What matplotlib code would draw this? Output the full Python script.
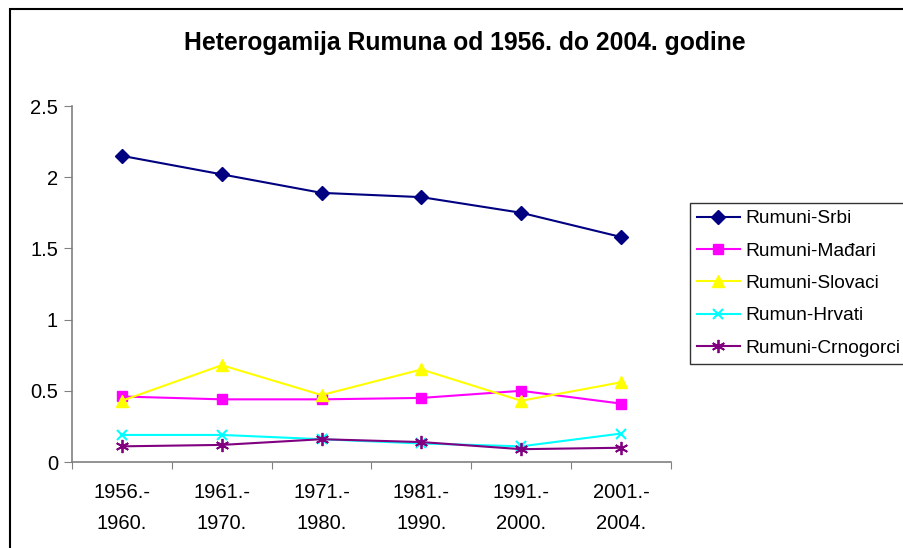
import numpy as np
import matplotlib.pyplot as plt
from matplotlib.patches import Rectangle

plt.rcParams['font.family'] = ['Liberation Sans', 'DejaVu Sans']

periods = ["1956.-\n1960.", "1961.-\n1970.", "1971.-\n1980.",
           "1981.-\n1990.", "1991.-\n2000.", "2001.-\n2004."]
srbi = [2.15, 2.02, 1.89, 1.86, 1.75, 1.58]
madjari = [0.46, 0.44, 0.44, 0.45, 0.50, 0.41]
slovaci = [0.43, 0.68, 0.47, 0.65, 0.43, 0.56]
hrvati = [0.19, 0.19, 0.16, 0.13, 0.11, 0.20]
crnogorci = [0.11, 0.12, 0.16, 0.14, 0.09, 0.10]

fig = plt.figure(figsize=(9.04, 5.48), dpi=100)
ax = fig.add_axes([72/904, 1 - 462/548, (671 - 72)/904, (462 - 106)/548])

x = np.arange(len(periods))
ax.plot(x, srbi, color="#000080", marker="D", ms=7.5, lw=1.5, label="Rumuni-Srbi")
ax.plot(x, madjari, color="#FF00FF", marker="s", ms=7.5, lw=1.5, label="Rumuni-Mađari")
ax.plot(x, slovaci, color="#FFFF00", marker="^", ms=8.5, lw=1.5, label="Rumuni-Slovaci")
ax.plot(x, hrvati, color="#00FFFF", marker="x", ms=7.5, mew=1.5, lw=1.5, label="Rumun-Hrvati")
ax.plot(x, crnogorci, color="#800080", marker=(6, 2, 0), ms=9.5, mew=1.3, lw=1.5,
        label="Rumuni-Crnogorci")

ax.set_xlim(-0.5, len(periods) - 0.5)
ax.set_ylim(0, 2.5)
ax.set_yticks([0, 0.5, 1, 1.5, 2, 2.5])
ax.set_yticklabels(["0", "0.5", "1", "1.5", "2", "2.5"])
ax.set_xticks(np.arange(len(periods) + 1) - 0.5)
ax.set_xticklabels([])
ax.set_xticks(x, minor=True)
ax.set_xticklabels(periods, minor=True, linespacing=1.8)
ax.tick_params(axis="x", which="minor", length=0, pad=15, labelsize=14.5)
ax.tick_params(axis="x", which="major", length=5, color="#808080", direction="out")
ax.tick_params(axis="y", length=6, color="#808080", labelsize=14.5, pad=4)
for side in ["top", "right"]:
    ax.spines[side].set_visible(False)
for side in ["left", "bottom"]:
    ax.spines[side].set_color("#808080")
    ax.spines[side].set_linewidth(1.2)

fig.text(465/904, 1 - 43/548, "Heterogamija Rumuna od 1956. do 2004. godine",
         ha="center", va="center", fontsize=17.8, fontweight="bold")

leg = fig.legend(loc="upper left", bbox_to_anchor=(690/904, 1 - 203/548),
                 fontsize=13.8, frameon=True, fancybox=False, borderaxespad=0,
                 handlelength=2.24, handletextpad=0.3, labelspacing=0.78,
                 borderpad=0.36)
leg.get_frame().set_edgecolor("black")
leg.get_frame().set_linewidth(1.0)

fig.add_artist(Rectangle((10/904, -0.1), 1.0, 1.1 - 9/548,
                         transform=fig.transFigure, fill=False,
                         edgecolor="black", lw=1.5))

fig.savefig("out.png", dpi=100)
